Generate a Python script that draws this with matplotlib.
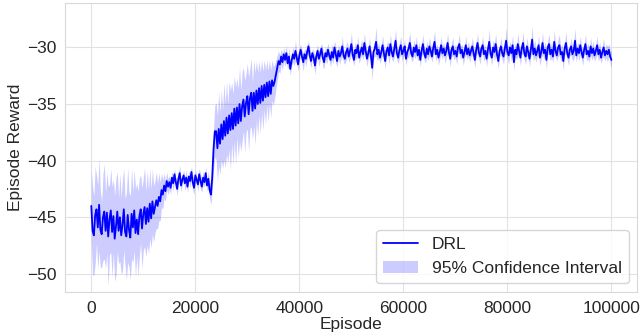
import numpy as np
import matplotlib.pyplot as plt
import seaborn as sns

# episodes sampled every 250
episodes = np.arange(0, 100001, 250)

# mean episode reward
reward_mean = [
    # 0 - 12000
    -44.0, -46.2, -46.6, -44.8, -44.3, -45.9, -43.9, -46.1, -46.5, -45.0, -44.5, -46.2,
    -44.6, -46.7, -45.2, -44.4, -46.3, -44.9, -46.9, -45.8, -44.5, -46.2, -45.0, -46.6,
    -45.7, -44.3, -46.3, -46.7, -44.8, -46.1, -46.8, -44.7, -45.9, -44.4, -46.4, -45.2,
    -46.5, -44.9, -44.3, -46.0, -44.7, -44.1, -45.6, -44.2, -45.4, -43.8, -45.1, -43.6, -44.7,
    # 12250 - 15000
    -44.1, -43.5, -44.0, -43.2, -43.6, -42.6, -43.0, -42.2, -42.7, -41.8, -42.3, -41.9,
    # 15250 - 23000
    -42.4, -41.5, -42.0, -41.2, -41.9, -42.5, -41.6, -41.1, -42.2, -41.7, -41.3, -42.0,
    -41.5, -42.3, -41.4, -41.8, -41.0, -41.9, -42.4, -41.3, -41.7, -42.1, -41.2, -41.8,
    -42.3, -41.5, -41.9, -41.1, -42.2, -41.6, -42.6, -43.0,
    # 23250 - 23750
    -41.5, -39.0, -37.4,
    # 24000 - 35000
    -37.4, -38.9, -37.2, -38.5, -36.8, -38.1, -36.5, -37.8, -36.2, -37.6, -36.0, -37.3,
    -35.8, -37.2, -35.4, -36.9, -35.3, -36.7, -35.0, -36.5, -35.2, -34.6, -36.1, -34.9,
    -34.3, -35.9, -34.5, -34.0, -35.6, -34.0, -35.4, -33.8, -35.0, -33.6, -34.9, -33.4,
    -34.7, -33.3, -34.4, -33.1, -34.3, -33.0, -34.1, -32.9, -33.4,
    # 35250 - 37000
    -33.0, -32.4, -31.8, -31.2, -31.5, -30.8, -31.3, -30.6,
    # 37250 - 100000
    -31.1, -30.5, -31.4, -30.8, -31.9, -31.2, -30.6, -31.0, -30.3, -30.9, -31.5, -30.7,
    -30.2, -30.8, -31.3, -30.6, -31.0, -30.4, -29.9, -30.7, -31.2, -30.5, -30.9, -31.6,
    -30.8, -30.3, -31.0, -30.6, -30.1, -30.9, -31.3, -30.5, -30.8, -30.2, -30.7, -31.1,
    -30.4, -30.9, -30.0, -30.6, -31.2, -30.3, -30.8, -30.5, -29.9, -30.7, -31.0, -30.4,
    -30.1, -30.8, -30.3, -29.7, -30.6, -31.1, -30.2, -30.5, -29.8, -30.9, -30.4, -30.0,
    -30.6, -29.6, -30.3, -31.0, -30.5, -29.9, -30.7, -31.8, -30.4, -30.1, -29.5, -30.6,
    -30.2, -30.9, -30.4, -29.8, -30.5, -31.2, -30.3, -30.0, -30.7, -29.7, -30.4, -30.8,
    -30.1, -29.4, -30.5, -30.9, -30.2, -29.8, -30.6, -30.3, -29.9, -31.0, -30.4, -30.1,
    -29.6, -30.5, -30.8, -30.0, -30.4, -29.8, -30.7, -30.2, -31.1, -30.3, -29.7, -30.5,
    -30.9, -30.1, -30.6, -29.9, -30.3, -30.8, -30.0, -29.5, -30.6, -30.2, -30.9, -30.4,
    -29.8, -30.5, -30.1, -30.7, -30.3, -29.6, -30.4, -31.0, -30.2, -29.9, -30.6, -30.3,
    -30.8, -30.0, -29.7, -30.5, -30.2, -30.9, -30.4, -29.8, -30.6, -30.1, -30.7, -30.3,
    -29.9, -30.5, -31.1, -30.2, -29.6, -30.4, -30.8, -30.1, -29.8, -30.6, -30.3, -31.0,
    -30.2, -29.5, -30.5, -30.9, -30.0, -30.4, -29.7, -30.6, -31.2, -30.3, -29.9, -30.5,
    -30.8, -30.1, -29.4, -30.4, -30.7, -30.0, -30.5, -29.8, -31.3, -30.2, -30.6, -29.7,
    -30.3, -30.9, -30.1, -29.6, -30.5, -30.8, -29.9, -30.4, -31.0, -30.2, -29.3, -30.6,
    -30.1, -30.7, -30.3, -29.8, -30.9, -30.4, -29.6, -30.5, -30.2, -31.1, -30.0, -29.7,
    -30.6, -30.2, -30.8, -29.5, -30.3, -30.7, -30.0, -29.8, -30.6, -30.4, -31.2, -30.1,
    -29.6, -30.5, -30.9, -30.2, -29.9, -30.6, -30.3, -29.4, -30.7, -30.1, -30.5, -29.8,
    -30.4, -30.9, -30.2, -29.7, -30.6, -30.3, -30.8, -29.9, -30.5, -30.1, -30.7, -30.3,
    -29.8, -30.6, -30.2, -30.9, -30.4, -30.0, -30.7, -30.3, -30.6, -30.2, -30.8, -31.1,
]

# half width of the 95% confidence band
ci_half = [
    # 0 - 12000
    3.2, 3.9, 3.5, 4.3, 3.0, 3.7, 4.1, 3.4, 2.9, 3.8, 4.2, 3.3,
    3.6, 4.4, 3.1, 3.7, 4.0, 3.2, 3.8, 4.3, 3.5, 2.9, 3.9, 3.4,
    4.1, 3.6, 3.0, 3.8, 4.2, 3.3, 3.7, 4.0, 3.1, 3.6, 3.9, 3.2,
    3.8, 3.4, 3.0, 3.6, 3.2, 3.5, 2.9, 3.3, 2.8, 3.1, 2.6, 2.9, 2.5,
    # 12250 - 15000
    2.3, 2.5, 2.0, 2.1, 1.7, 1.5, 1.3, 1.1, 0.9, 0.8, 0.7, 0.6,
    # 15250 - 23000
    0.6, 0.5, 0.7, 0.5, 0.4, 0.6, 0.5, 0.7, 0.6, 0.4, 0.5, 0.6,
    0.7, 0.5, 0.4, 0.6, 0.5, 0.7, 0.6, 0.5, 0.4, 0.6, 0.5, 0.7,
    0.5, 0.6, 0.4, 0.6, 0.5, 0.7, 0.8, 0.9,
    # 23250 - 23750
    1.2, 1.8, 2.3,
    # 24000 - 35000
    2.5, 2.9, 3.3, 2.7, 3.1, 2.6, 3.4, 2.8, 3.2, 2.6, 3.0, 3.5,
    2.7, 3.1, 2.9, 3.4, 2.6, 3.0, 3.3, 2.7, 3.1, 2.8, 3.2, 2.6,
    2.9, 3.3, 2.7, 3.0, 2.5, 2.9, 3.2, 2.6, 2.8, 2.4, 2.7, 2.3,
    2.6, 2.2, 2.4, 2.0, 2.3, 1.9, 2.1, 1.8, 1.7,
    # 35250 - 37000
    1.5, 1.3, 1.1, 0.9, 0.8, 0.7, 0.7, 0.6,
    # 37250 - 100000
    0.6, 0.7, 0.5, 0.8, 0.6, 0.5, 0.7, 0.6, 0.9, 0.5, 0.6, 0.7,
    0.5, 0.6, 0.8, 0.5, 0.7, 0.6, 0.5, 0.7, 0.6, 0.4, 0.6, 0.8,
    0.6, 0.5, 0.7, 0.6, 0.5, 0.8, 0.6, 0.5, 0.7, 0.6, 0.5, 0.6,
    0.7, 0.5, 0.6, 0.8, 0.5, 0.6, 0.7, 0.5, 0.9, 0.6, 0.5, 0.7,
    0.6, 0.5, 0.7, 1.0, 0.6, 0.5, 0.7, 0.6, 0.8, 0.5, 0.6, 0.7,
    0.5, 0.9, 0.6, 0.7, 0.5, 0.8, 0.6, 1.1, 0.5, 0.7, 1.3, 0.6,
    0.7, 0.5, 0.6, 0.9, 0.6, 0.7, 0.5, 0.6, 0.8, 0.9, 0.6, 0.5,
    0.7, 1.0, 0.6, 0.5, 0.7, 0.8, 0.6, 0.5, 0.7, 0.6, 0.5, 0.8,
    0.9, 0.6, 0.5, 0.7, 0.6, 0.8, 0.5, 0.7, 0.6, 0.5, 0.9, 0.6,
    0.5, 0.7, 0.6, 0.8, 0.6, 0.5, 0.7, 1.0, 0.6, 0.5, 0.7, 0.6,
    0.8, 0.6, 0.5, 0.7, 0.6, 0.9, 0.5, 0.7, 0.6, 0.8, 0.5, 0.6,
    0.7, 0.5, 0.9, 0.6, 0.5, 0.7, 0.6, 0.8, 0.5, 0.7, 0.6, 0.5,
    0.8, 0.6, 0.7, 0.5, 0.9, 0.6, 0.7, 0.5, 0.8, 0.6, 0.5, 0.7,
    0.6, 1.1, 0.5, 0.7, 0.6, 0.8, 0.9, 0.6, 0.7, 0.5, 0.8, 0.6,
    0.7, 0.5, 1.2, 0.6, 0.8, 0.5, 0.7, 0.9, 0.8, 0.6, 0.5, 1.0,
    0.6, 0.7, 0.5, 1.0, 0.6, 0.7, 0.8, 0.5, 0.7, 0.6, 1.2, 0.6,
    0.8, 0.6, 0.5, 0.9, 0.7, 0.6, 1.0, 0.5, 0.7, 0.8, 0.6, 0.9,
    0.6, 0.7, 0.5, 1.1, 0.6, 0.5, 0.8, 0.9, 0.6, 0.7, 0.8, 0.5,
    1.0, 0.6, 0.7, 0.5, 0.8, 0.6, 0.7, 1.1, 0.6, 0.5, 0.7, 0.8,
    0.6, 0.7, 0.5, 0.9, 0.6, 0.7, 0.5, 0.8, 0.6, 0.7, 0.5, 0.6,
    0.8, 0.6, 0.7, 0.5, 0.6, 0.8, 0.5, 0.6, 0.7, 0.5, 0.6, 0.7,
]

sns.set_style("whitegrid", {"grid.color": "#e2e2e2", "axes.edgecolor": "#d8d8d8"})
plt.rcParams['font.family'] = ['Liberation Sans', 'DejaVu Sans']

mean = np.array(reward_mean)
half = np.array(ci_half)
assert len(mean) == len(episodes) == len(half)

fig, ax = plt.subplots(figsize=(6.4, 3.34), dpi=100)
fig.subplots_adjust(left=0.102, right=0.996, bottom=0.126, top=0.99)

ax.plot(episodes, mean, color="blue", linewidth=1.3, label="DRL")
ax.fill_between(episodes, mean - half, mean + half, color="blue", alpha=0.2,
                linewidth=0, label="95% Confidence Interval")

ax.set_xlim(-5000, 105000)
ax.set_ylim(-51.6, -26.1)
ax.set_xticks([0, 20000, 40000, 60000, 80000, 100000])
ax.set_yticks([-50, -45, -40, -35, -30])
ax.tick_params(labelsize=12.5, pad=3)
ax.set_xlabel("Episode", fontsize=12.5, labelpad=1)
ax.set_ylabel("Episode Reward", fontsize=12.5, labelpad=3)
ax.legend(loc="lower right", fontsize=12.5)

fig.savefig("out.png")
